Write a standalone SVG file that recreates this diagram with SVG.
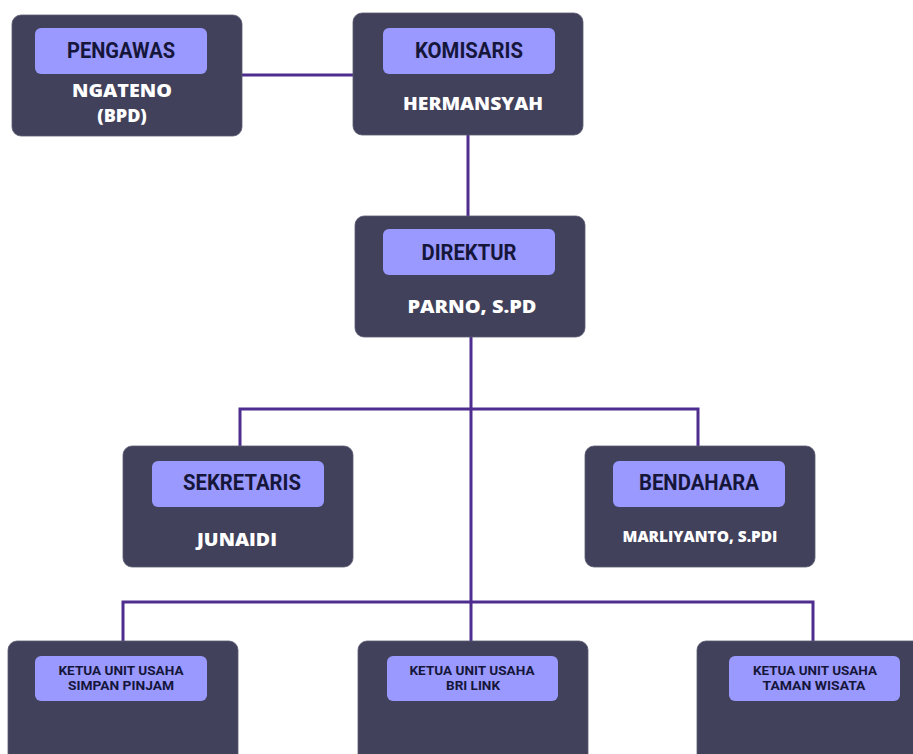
<svg xmlns="http://www.w3.org/2000/svg" width="913" height="754" viewBox="0 0 913 754">
<style>
.box{fill:#41415b;stroke:#5a5a72;stroke-width:0.8}
.lab{fill:#9999ff}
.t{font-family:Roboto,"Liberation Sans",sans-serif;font-weight:700;fill:#16163a;text-anchor:middle;font-size:22px}
.s{font-family:Roboto,"Liberation Sans",sans-serif;font-weight:700;fill:#16163a;text-anchor:middle;font-size:13px}
.n{font-family:"Open Sans","Liberation Sans",sans-serif;font-weight:800;fill:#ffffff;text-anchor:middle;font-size:18px}
.c{fill:none;stroke:#4e2d8f;stroke-width:3}
</style>
<rect width="913" height="754" fill="#ffffff"/>
<g id="connectors">
<path class="c" d="M242 75H353"/>
<path class="c" d="M468 135V217"/>
<path class="c" d="M471 337V641"/>
<path class="c" d="M240 446V409H698V446"/>
<path class="c" d="M123 641V602H813V641"/>
</g>
<g id="pengawas">
<rect class="box" x="12" y="15" width="230" height="121" rx="9"/>
<rect class="lab" x="35" y="28" width="172" height="46" rx="6"/>
<text class="t" x="121" y="58" textLength="108" lengthAdjust="spacingAndGlyphs">PENGAWAS</text>
<text class="n" x="122" y="97" textLength="100" lengthAdjust="spacingAndGlyphs">NGATENO</text>
<text class="n" x="122" y="122">(BPD)</text>
</g>
<g id="komisaris">
<rect class="box" x="353" y="13" width="230" height="122" rx="9"/>
<rect class="lab" x="383" y="28" width="172" height="46" rx="6"/>
<text class="t" x="469" y="58" textLength="108" lengthAdjust="spacingAndGlyphs">KOMISARIS</text>
<text class="n" x="473" y="110" textLength="140" lengthAdjust="spacingAndGlyphs">HERMANSYAH</text>
</g>
<g id="direktur">
<rect class="box" x="355" y="216" width="230" height="121" rx="9"/>
<rect class="lab" x="383" y="229" width="172" height="46" rx="6"/>
<text class="t" x="469" y="260" textLength="95" lengthAdjust="spacingAndGlyphs">DIREKTUR</text>
<text class="n" x="472" y="313" textLength="129" lengthAdjust="spacingAndGlyphs">PARNO, S.PD</text>
</g>
<g id="sekretaris">
<rect class="box" x="123" y="446" width="230" height="121" rx="9"/>
<rect class="lab" x="152" y="461" width="172" height="46" rx="6"/>
<text class="t" x="242" y="490" textLength="118" lengthAdjust="spacingAndGlyphs">SEKRETARIS</text>
<text class="n" x="237" y="546" textLength="80" lengthAdjust="spacingAndGlyphs">JUNAIDI</text>
</g>
<g id="bendahara">
<rect class="box" x="585" y="446" width="230" height="121" rx="9"/>
<rect class="lab" x="613" y="461" width="172" height="46" rx="6"/>
<text class="t" x="699" y="490" textLength="120" lengthAdjust="spacingAndGlyphs">BENDAHARA</text>
<text class="n" x="700" y="542" style="font-size:15px" textLength="155" lengthAdjust="spacingAndGlyphs">MARLIYANTO, S.PDI</text>
</g>
<g id="simpan-pinjam">
<rect class="box" x="8" y="641" width="230" height="125" rx="9"/>
<rect class="lab" x="35" y="656" width="172" height="45" rx="6"/>
<text class="s" x="121" y="675" textLength="125" lengthAdjust="spacingAndGlyphs">KETUA UNIT USAHA</text>
<text class="s" x="121" y="690" textLength="106" lengthAdjust="spacingAndGlyphs">SIMPAN PINJAM</text>
</g>
<g id="bri-link">
<rect class="box" x="358" y="641" width="230" height="125" rx="9"/>
<rect class="lab" x="387" y="656" width="171" height="45" rx="6"/>
<text class="s" x="472" y="675" textLength="125" lengthAdjust="spacingAndGlyphs">KETUA UNIT USAHA</text>
<text class="s" x="473" y="690" textLength="54" lengthAdjust="spacingAndGlyphs">BRI LINK</text>
</g>
<g id="taman-wisata">
<rect class="box" x="697" y="641" width="230" height="125" rx="9"/>
<rect class="lab" x="729" y="656" width="171" height="45" rx="6"/>
<text class="t" x="815" y="675" style="font-size:13px" textLength="124" lengthAdjust="spacingAndGlyphs">KETUA UNIT USAHA</text>
<text class="s" x="814" y="690" textLength="103" lengthAdjust="spacingAndGlyphs">TAMAN WISATA</text>
</g>
</svg>
